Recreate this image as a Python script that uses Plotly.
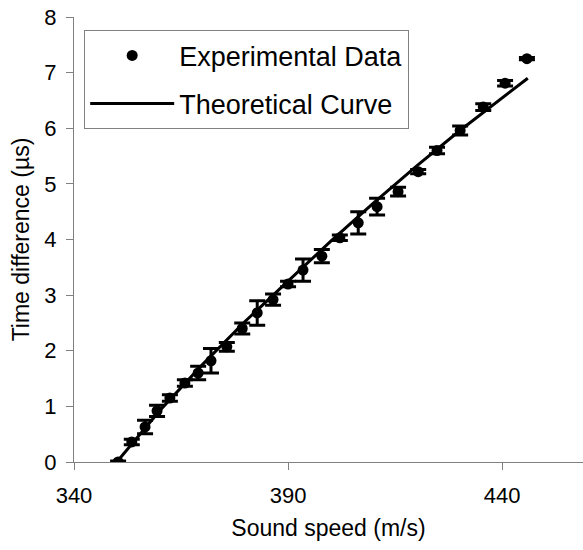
import plotly.graph_objects as go

# Experimental data
speed = [350.3, 353.5, 356.6, 359.4, 362.4, 365.9, 369.0, 372.0, 375.7, 379.3,
         382.8, 386.5, 390.0, 393.5, 397.9, 402.1, 406.4, 410.8, 415.7, 420.4,
         424.8, 430.2, 435.6, 440.7, 445.8]
time_diff = [0.0, 0.36, 0.63, 0.92, 1.15, 1.42, 1.60, 1.82, 2.07, 2.40,
             2.68, 2.92, 3.20, 3.45, 3.70, 4.03, 4.30, 4.59, 4.86, 5.22,
             5.60, 5.96, 6.38, 6.81, 7.25]
err = [0.02, 0.05, 0.12, 0.10, 0.06, 0.06, 0.12, 0.22, 0.08, 0.10,
       0.22, 0.10, 0.05, 0.20, 0.12, 0.05, 0.20, 0.15, 0.08, 0.04,
       0.06, 0.08, 0.06, 0.05, 0.02]

# Theoretical curve
theo_speed = [350, 360, 370, 380, 390, 400, 410, 420, 430, 440, 446]
theo_time = [0.0, 0.92, 1.75, 2.53, 3.25, 3.97, 4.66, 5.32, 5.95, 6.55, 6.90]

x_ticks = [340, 390, 440]
y_ticks = [0, 1, 2, 3, 4, 5, 6, 7, 8]

font_family = "Liberation Sans, Arial, sans-serif"

fig = go.Figure()
fig.add_trace(go.Scatter(
    x=speed, y=time_diff, mode="markers", name="Experimental Data",
    legendgroup="a",
    marker=dict(color="black", size=11, symbol="circle"),
    error_y=dict(type="data", array=err, visible=True, color="black",
                 thickness=3, width=8),
))
fig.add_trace(go.Scatter(
    x=theo_speed, y=theo_time, mode="lines", name="Theoretical Curve",
    legendgroup="b",
    line=dict(color="black", width=3),
))

fig.update_layout(
    width=583, height=550,
    margin=dict(l=74, r=0, t=17, b=88),
    plot_bgcolor="white", paper_bgcolor="white",
    font=dict(family=font_family, color="black", size=22),
    showlegend=True,
    legend=dict(
        x=0.02, y=0.97, xanchor="left", yanchor="top",
        bordercolor="#808080", borderwidth=1, bgcolor="white",
        font=dict(size=27, family=font_family),
        itemwidth=84, tracegroupgap=10, traceorder="grouped",
        entrywidth=356, entrywidthmode="pixels",
    ),
    xaxis=dict(
        range=[340, 458.9], tickvals=x_ticks, ticktext=[str(v) for v in x_ticks],
        showgrid=False, zeroline=False, showline=True, linecolor="#808080",
        linewidth=1, ticks="outside", tickcolor="#808080", ticklen=7,
        ticklabelstandoff=7,
        tickfont=dict(size=22), title=dict(text="Sound speed (m/s)", font=dict(size=23), standoff=12),
    ),
    yaxis=dict(
        range=[0, 8], tickvals=y_ticks, showgrid=False, zeroline=False,
        showline=True, linecolor="#808080", linewidth=1, ticks="outside",
        tickcolor="#808080", ticklen=7, ticklabelstandoff=5, tickfont=dict(size=22),
        title=dict(text="Time difference (µs)", font=dict(size=23), standoff=8),
    ),
)

fig.write_html("out.html")
